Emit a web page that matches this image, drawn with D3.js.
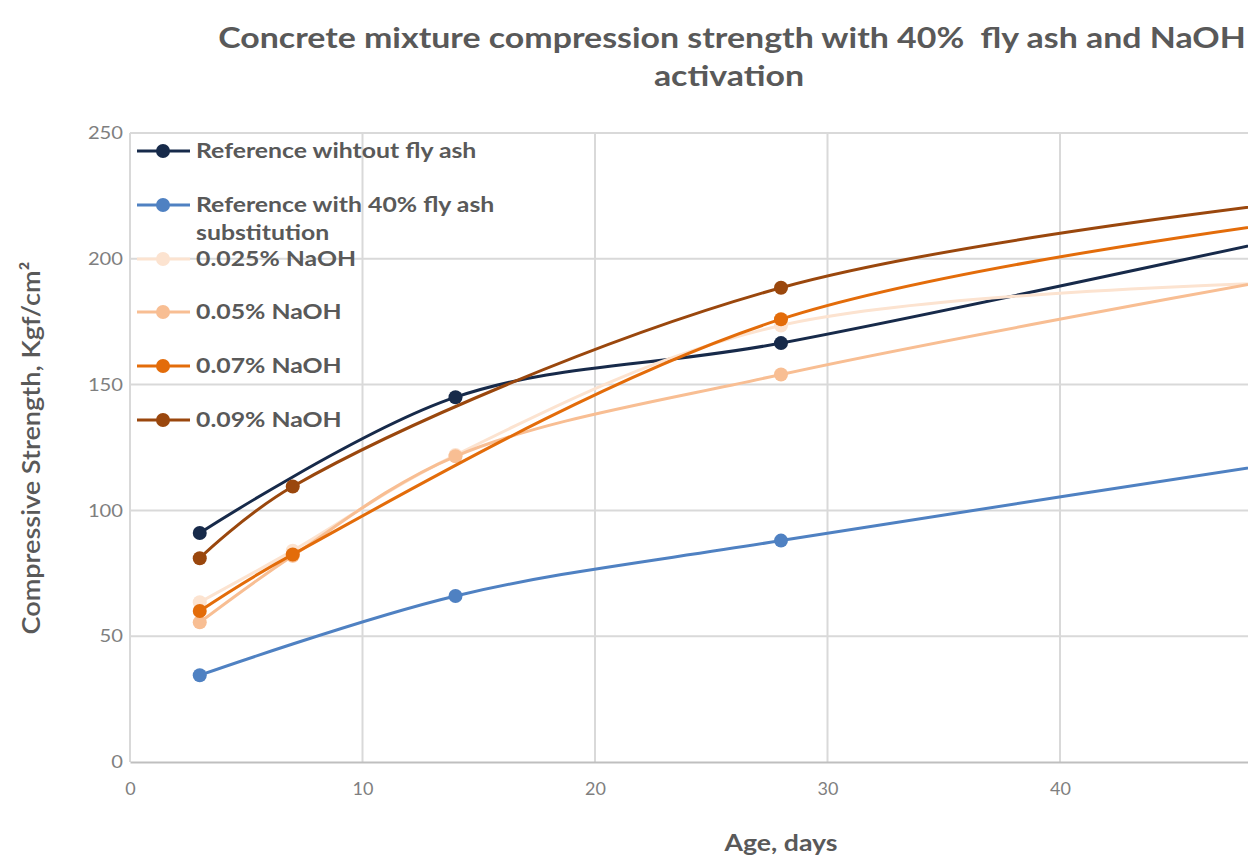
<!DOCTYPE html>
<html>
<head>
<meta charset="utf-8">
<script src="https://cdn.jsdelivr.net/npm/d3@7"></script>
<style>
  html, body { margin: 0; padding: 0; background: #fff; overflow: hidden; }
  svg { display: block; }
</style>
</head>
<body>
<svg id="chart" width="1248" height="859"></svg>
<script>
// Curing ages (days) and compressive strength results (Kgf/cm²); null = not tested
const ages = [3, 7, 14, 28, 56];
const refNoAsh   = [91, null, 145, 166.5, 221];
const ref40Ash   = [34.5, null, 66, 88, 128];
const naoh025    = [63.5, 84, 122, 173.5, 192];
const naoh050    = [55.5, 82, 121.5, 154, 203];
const naoh070    = [60, 82.5, null, 176, 222];
const naoh090    = [81, 109.5, null, 188.5, 229];

const seriesNames = [
  "Reference wihtout fly ash",
  "Reference with 40% fly ash substitution",
  "0.025% NaOH",
  "0.05% NaOH",
  "0.07% NaOH",
  "0.09% NaOH"
];
const seriesValues = [refNoAsh, ref40Ash, naoh025, naoh050, naoh070, naoh090];
const seriesColors = ["#172a4a", "#4f81c2", "#fce3d0", "#f8be93", "#e36c0a", "#9a470d"];

const xTicks = [0, 10, 20, 30, 40, 50];
const yTicks = [0, 50, 100, 150, 200, 250];

const titleLines = ["Concrete mixture compression strength with 40%  fly ash and NaOH", "activation"];
const xTitle = "Age, days";
const yTitle = "Compressive Strength, Kgf/cm\u00B2";

const W = 1248, H = 859;
const svg = d3.select("#chart");
const font = "Lato, 'Open Sans', sans-serif";

// Widen a text horizontally by a factor (glyphs stretched, height kept)
function widen(sel, factor) {
  const len = sel.node().getComputedTextLength();
  sel.attr("textLength", len * factor).attr("lengthAdjust", "spacingAndGlyphs");
}
const stretch = 1.21;

const plot = { left: 130, right: 1432, top: 133, bottom: 762 };
const x = d3.scaleLinear().domain([0, 56]).range([plot.left, plot.right]);
const y = d3.scaleLinear().domain([0, 250]).range([plot.bottom, plot.top]);

// Title
const title = svg.append("g").attr("font-family", font).attr("font-weight", 700)
  .attr("fill", "#595959").attr("font-size", 28);
const t1 = title.append("text").attr("x", 732).attr("y", 48).attr("text-anchor", "middle")
  .style("white-space", "pre").text(titleLines[0]);
widen(t1, stretch);
const t2 = title.append("text").attr("x", 729).attr("y", 86).attr("text-anchor", "middle")
  .text(titleLines[1]);
widen(t2, stretch);

// Gridlines
const grid = svg.append("g");
grid.selectAll("line.h").data(yTicks.filter(d => d > 0)).join("line")
  .attr("x1", plot.left).attr("x2", plot.right)
  .attr("y1", d => y(d)).attr("y2", d => y(d))
  .attr("stroke", "#d9d9d9").attr("stroke-width", 2);
grid.selectAll("line.v").data(xTicks).join("line")
  .attr("x1", d => x(d)).attr("x2", d => x(d))
  .attr("y1", plot.top).attr("y2", plot.bottom)
  .attr("stroke", "#d9d9d9").attr("stroke-width", 2);

// X axis (labels only for ticks inside the page)
const xAxis = svg.append("g").attr("transform", `translate(0,${plot.bottom})`)
  .call(d3.axisBottom(x).tickValues(xTicks.filter(d => x(d) < W - 20))
    .tickSize(0).tickPadding(20).tickFormat(d3.format("d")));
xAxis.select(".domain").attr("stroke", "#bfbfbf").attr("stroke-width", 2);
xAxis.selectAll("text").attr("font-family", font).attr("font-size", 18).attr("fill", "#7f7f7f");

// Y axis
const yAxis = svg.append("g").attr("transform", `translate(${plot.left},0)`)
  .call(d3.axisLeft(y).tickValues(yTicks).tickSize(0).tickPadding(7));
yAxis.select(".domain").remove();
yAxis.selectAll("text").attr("font-family", font).attr("font-size", 18).attr("fill", "#7f7f7f")
  .each(function () { widen(d3.select(this), 1.12); });

// Axis titles
const xt = svg.append("text").attr("x", 781).attr("y", 851).attr("text-anchor", "middle")
  .attr("font-family", font).attr("font-weight", 700).attr("font-size", 23).attr("fill", "#595959")
  .text(xTitle);
xt.attr("textLength", 113).attr("lengthAdjust", "spacingAndGlyphs");
const yt = svg.append("text").attr("transform", "translate(40,448) rotate(-90)").attr("text-anchor", "middle")
  .attr("font-family", font).attr("font-weight", 600).attr("font-size", 24).attr("fill", "#595959")
  .text(yTitle);
yt.attr("textLength", 373).attr("lengthAdjust", "spacingAndGlyphs");

// Series lines and markers
const line = d3.line()
  .x(d => x(d.age)).y(d => y(d.value))
  .curve(d3.curveCatmullRom.alpha(0.5));

const layer = svg.append("g");
seriesValues.forEach((vals, i) => {
  const pts = ages.map((a, j) => ({ age: a, value: vals[j] })).filter(d => d.value != null);
  const g = layer.append("g");
  g.append("path").datum(pts).attr("d", line)
    .attr("fill", "none").attr("stroke", seriesColors[i]).attr("stroke-width", 3);
  g.selectAll("circle").data(pts).join("circle")
    .attr("cx", d => x(d.age)).attr("cy", d => y(d.value)).attr("r", 7)
    .attr("fill", seriesColors[i]);
});

// Legend
const legendRows = [151, 205, 259, 312, 366, 420];
const legendStretch = 1.24;
const legend = svg.append("g").attr("font-family", font).attr("font-weight", 700)
  .attr("font-size", 20).attr("fill", "#595959");
seriesNames.forEach((name, i) => {
  const ly = legendRows[i];
  legend.append("line").attr("x1", 137).attr("x2", 190).attr("y1", ly).attr("y2", ly)
    .attr("stroke", seriesColors[i]).attr("stroke-width", 3);
  legend.append("circle").attr("cx", 163).attr("cy", ly).attr("r", 7).attr("fill", seriesColors[i]);
  const t = legend.append("text").attr("x", 196).attr("y", ly + 7);
  if (i === 1) {
    t.text("Reference with 40% fly ash");
    const t2b = legend.append("text").attr("x", 196).attr("y", ly + 35).text("substitution");
    widen(t2b, legendStretch);
  } else {
    t.text(name);
  }
  widen(t, legendStretch);
});
</script>
</body>
</html>
